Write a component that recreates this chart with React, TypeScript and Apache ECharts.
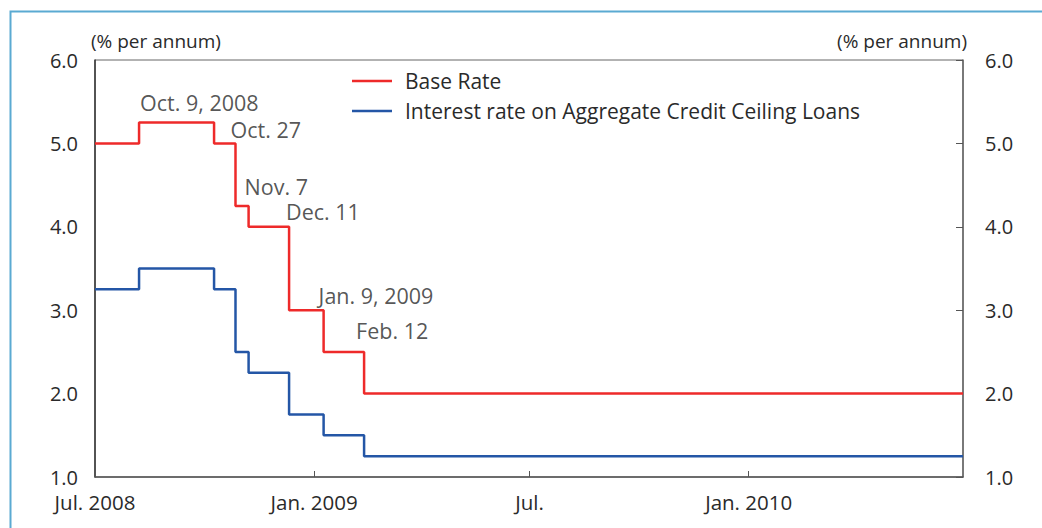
import React, { useEffect, useRef } from "react";
import * as echarts from "echarts";

const changeDates = ["2008-07-01", "2008-08-07", "2008-10-09", "2008-10-27", "2008-11-07", "2008-12-11", "2009-01-09", "2009-02-12", "2010-06-30"];
const baseRate = [5.0, 5.25, 5.0, 4.25, 4.0, 3.0, 2.5, 2.0, 2.0];
const loanRate = [3.25, 3.5, 3.25, 2.5, 2.25, 1.75, 1.5, 1.25, 1.25];

const tickDates = ["2008-07-01", "2009-01-01", "2009-07-01", "2010-01-01"];
const tickLabels = ["Jul. 2008", "Jan. 2009", "Jul.", "Jan. 2010"];

const annotationTexts = ["Oct. 9, 2008", "Oct. 27", "Nov. 7", "Dec. 11", "Jan. 9, 2009", "Feb. 12"];
const annotationDates = ["2008-10-09", "2008-10-27", "2008-11-07", "2008-12-11", "2009-01-09", "2009-02-12"];
const annotationLevels = [5.25, 5.0, 4.25, 4.0, 3.0, 2.5];
const annotationOffsets = [[-74, -20], [-5, -14], [-4, -19], [-3, -15], [-5, -15], [-8, -21]];

const FONT = "'Open Sans', 'Noto Sans', sans-serif";
const TEXT = "#2a2a2a";

function toTs(s: string): number {
  const [y, m, d] = s.split("-").map(Number);
  return Date.UTC(y, m - 1, d);
}

export default function App() {
  const ref = useRef<HTMLDivElement>(null);
  useEffect(() => {
    if (!ref.current) return;
    const chart = echarts.init(ref.current, undefined, { renderer: "svg" });
    const ticks = tickDates.map(toTs);
    const option: any = {
      animation: false,
      backgroundColor: "#ffffff",
      textStyle: { fontFamily: FONT },
      graphic: [
        {
          type: "rect",
          left: 8,
          top: 9,
          shape: { width: 1100, height: 600 },
          style: { fill: "none", stroke: "#5aaad2", lineWidth: 2 },
          silent: true,
        },
      ],
      grid: {
        left: 95,
        right: 79,
        top: 60,
        bottom: 51,
        show: true,
        borderColor: "#666666",
        borderWidth: 1,
      },
      legend: {
        orient: "vertical",
        left: 352,
        top: 69,
        padding: 0,
        icon: "rect",
        itemWidth: 40,
        itemHeight: 2.5,
        itemGap: 6,
        data: ["Base Rate", "Interest rate on Aggregate Credit Ceiling Loans"],
        textStyle: { fontFamily: FONT, fontSize: 21, color: TEXT, lineHeight: 24, padding: [0, 0, 0, 8] },
      },
      xAxis: {
        type: "value",
        min: toTs("2008-07-01"),
        max: toTs("2010-06-30"),
        axisLine: { show: true, lineStyle: { color: "#555555", width: 1.5 } },
        axisTick: { show: true, inside: true, length: 6, customValues: ticks, lineStyle: { color: "#555555" } },
        axisLabel: {
          customValues: ticks,
          fontFamily: FONT,
          fontSize: 20.5,
          lineHeight: 20,
          color: TEXT,
          margin: 15,
          formatter: (v: number) => {
            const i = ticks.indexOf(v);
            return i >= 0 ? tickLabels[i] : "";
          },
        },
        splitLine: { show: false },
      },
      yAxis: [
        {
          type: "value",
          position: "left",
          min: 1,
          max: 6,
          interval: 1,
          name: "(% per annum)",
          nameLocation: "end",
          nameGap: 10,
          nameTextStyle: { fontFamily: FONT, fontSize: 19, color: TEXT, align: "left", padding: [0, 0, 0, -4] },
          axisLine: { show: true, lineStyle: { color: "#333333", width: 1.5 } },
          axisTick: { show: false },
          axisLabel: { fontFamily: FONT, fontSize: 20, lineHeight: 18, color: TEXT, margin: 17, formatter: (v: number) => v.toFixed(1) },
          splitLine: { show: false },
        },
        {
          type: "value",
          position: "right",
          min: 1,
          max: 6,
          interval: 1,
          name: "(% per annum)",
          nameLocation: "end",
          nameGap: 10,
          nameTextStyle: { fontFamily: FONT, fontSize: 19, color: TEXT, align: "right", padding: [0, -4, 0, 0] },
          axisLine: { show: true, lineStyle: { color: "#666666", width: 1.5 } },
          axisTick: { show: true, inside: true, length: 7, lineStyle: { color: "#555555" } },
          axisLabel: { fontFamily: FONT, fontSize: 20, lineHeight: 18, color: TEXT, margin: 22, formatter: (v: number) => v.toFixed(1) },
          splitLine: { show: false },
        },
      ],
      series: [
        {
          name: "Base Rate",
          type: "line",
          step: "end",
          symbol: "none",
          color: "#ee2a2a",
          lineStyle: { color: "#ee2a2a", width: 2.5 },
          data: changeDates.map((d, i) => [toTs(d), baseRate[i]]),
          z: 3,
        },
        {
          name: "Interest rate on Aggregate Credit Ceiling Loans",
          type: "line",
          step: "end",
          symbol: "none",
          color: "#2456a6",
          lineStyle: { color: "#2456a6", width: 2.5 },
          data: changeDates.map((d, i) => [toTs(d), loanRate[i]]),
          z: 3,
        },
        {
          name: "annotations",
          type: "scatter",
          symbolSize: 0,
          silent: true,
          z: 4,
          data: annotationTexts.map((t, i) => ({
            value: [toTs(annotationDates[i]), annotationLevels[i]],
            name: t,
            label: {
              show: true,
              position: "right",
              distance: 0,
              offset: annotationOffsets[i],
              formatter: t,
              fontFamily: FONT,
              fontSize: 21.5,
              color: TEXT,
            },
          })),
        },
      ],
    };
    chart.setOption(option);
    return () => chart.dispose();
  }, []);
  return (
    <div
      ref={ref}
      style={{ position: "absolute", left: 0, top: 0, width: 1042, height: 528 }}
    />
  );
}
